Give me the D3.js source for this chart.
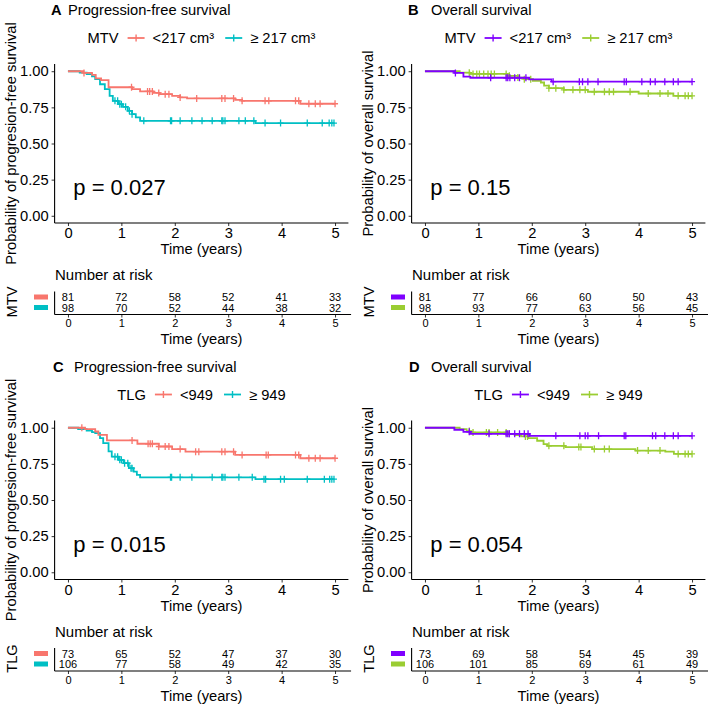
<!DOCTYPE html>
<html><head><meta charset="utf-8">
<script src="https://cdn.jsdelivr.net/npm/d3@7"></script>
<style>
body{margin:0;background:#fff}
svg{display:block}
text{font-family:"Liberation Sans",Arial,Helvetica,sans-serif;fill:#000}
</style>
</head><body><svg id="c" width="708" height="708"></svg>
<script>
// ---------- data ----------
const timeTicks = [0, 1, 2, 3, 4, 5];
const survTicks = [0, 0.25, 0.5, 0.75, 1];

// A: PFS by MTV
const pfsMtvLowTimes = [0, 0.29, 0.45, 0.52, 0.62, 0.76, 1.20, 1.35, 1.60, 1.72, 1.95, 2.10, 2.23, 3.13, 3.26, 4.35];
const pfsMtvLowSurv  = [1, 0.988, 0.975, 0.951, 0.938, 0.889, 0.876, 0.860, 0.850, 0.841, 0.830, 0.819, 0.812, 0.802, 0.795, 0.775];
const pfsMtvLowCens  = [0.30, 1.19, 1.49, 1.53, 1.58, 1.70, 1.82, 1.89, 2.10, 2.41, 2.88, 2.94, 3.10, 3.26, 3.69, 3.76, 4.26, 4.32, 4.51, 4.63, 4.72, 5.0];
const pfsMtvHighTimes = [0, 0.22, 0.35, 0.45, 0.51, 0.60, 0.69, 0.78, 0.84, 0.94, 1.03, 1.12, 1.20, 1.27, 1.35, 3.51];
const pfsMtvHighSurv  = [1, 0.99, 0.98, 0.965, 0.945, 0.91, 0.876, 0.83, 0.795, 0.772, 0.754, 0.726, 0.703, 0.681, 0.657, 0.641];
const pfsMtvHighCens  = [0.88, 0.93, 0.97, 1.0, 1.08, 1.15, 1.20, 1.42, 1.92, 1.94, 2.10, 2.32, 2.51, 2.70, 2.88, 2.90, 2.94, 3.20, 3.32, 3.48, 3.69, 3.98, 4.48, 4.76, 4.89, 4.94, 4.98];

// B: OS by MTV
const osMtvLowTimes = [0, 0.55, 0.72, 0.85, 1.95, 2.37];
const osMtvLowSurv  = [1, 0.988, 0.963, 0.955, 0.943, 0.928];
const osMtvLowCens  = [0.57, 1.23, 1.52, 1.55, 1.59, 1.68, 1.77, 1.89, 2.40, 2.89, 2.95, 3.05, 3.24, 3.73, 3.77, 4.06, 4.22, 4.31, 4.49, 4.65, 4.74, 5.0];
const osMtvHighTimes = [0, 0.65, 0.84, 1.55, 1.74, 1.86, 2.02, 2.17, 2.23, 2.32, 2.60, 3.05, 4.00, 4.65];
const osMtvHighSurv  = [1, 0.99, 0.981, 0.968, 0.956, 0.945, 0.933, 0.922, 0.90, 0.883, 0.871, 0.858, 0.846, 0.830];
const osMtvHighCens  = [0.83, 0.90, 0.97, 1.02, 1.10, 1.18, 1.24, 1.30, 1.52, 1.58, 1.74, 1.86, 1.98, 2.32, 2.45, 2.60, 2.77, 2.90, 3.0, 3.17, 3.36, 3.45, 3.53, 3.84, 4.18, 4.40, 4.55, 4.74, 4.87, 4.93, 5.0];

// C: PFS by TLG
const pfsTlgLowTimes = [0, 0.32, 0.51, 0.57, 0.73, 1.30, 1.70, 1.95, 2.20, 3.13, 4.35];
const pfsTlgLowSurv  = [1, 0.99, 0.974, 0.951, 0.912, 0.889, 0.870, 0.852, 0.834, 0.812, 0.789];
const pfsTlgLowCens  = [0.26, 1.20, 1.50, 1.54, 1.58, 1.70, 1.82, 1.89, 2.10, 2.39, 2.45, 2.88, 2.94, 3.10, 3.26, 3.71, 3.75, 4.26, 4.32, 4.51, 4.63, 4.72, 5.0];
const pfsTlgHighTimes = [0, 0.19, 0.35, 0.45, 0.51, 0.60, 0.66, 0.76, 0.82, 0.95, 1.04, 1.14, 1.23, 1.29, 1.35, 3.51];
const pfsTlgHighSurv  = [1, 0.99, 0.98, 0.97, 0.963, 0.928, 0.894, 0.836, 0.80, 0.778, 0.755, 0.72, 0.697, 0.674, 0.657, 0.644];
const pfsTlgHighCens  = [0.88, 0.93, 0.97, 1.0, 1.06, 1.12, 1.18, 1.20, 1.92, 1.94, 2.10, 2.32, 2.70, 2.88, 2.90, 2.94, 3.20, 3.45, 3.67, 3.70, 3.98, 4.05, 4.48, 4.80, 4.90, 4.94, 4.98];

// D: OS by TLG
const osTlgLowTimes = [0, 0.55, 0.72, 0.85, 1.96];
const osTlgLowSurv  = [1, 0.986, 0.972, 0.958, 0.944];
const osTlgLowCens  = [0.83, 1.20, 1.52, 1.55, 1.58, 1.68, 1.77, 1.86, 1.93, 2.45, 2.90, 3.00, 3.05, 3.25, 3.73, 3.76, 4.26, 4.32, 4.49, 4.65, 4.74, 5.0];
const osTlgHighTimes = [0, 0.65, 0.78, 0.86, 1.55, 1.68, 1.80, 1.93, 2.10, 2.22, 2.29, 2.63, 3.13, 3.94, 4.50, 4.66];
const osTlgHighSurv  = [1, 0.99, 0.977, 0.967, 0.958, 0.949, 0.94, 0.928, 0.91, 0.887, 0.875, 0.866, 0.852, 0.842, 0.834, 0.819];
const osTlgHighCens  = [0.83, 0.90, 1.15, 1.20, 1.36, 1.52, 1.58, 1.88, 1.92, 2.32, 2.60, 2.88, 2.92, 3.17, 3.36, 3.45, 3.98, 4.18, 4.40, 4.74, 4.87, 4.93, 5.0];

// numbers at risk
const riskPfsMtvLow  = [81, 72, 58, 52, 41, 33];
const riskPfsMtvHigh = [98, 70, 52, 44, 38, 32];
const riskOsMtvLow   = [81, 77, 66, 60, 50, 43];
const riskOsMtvHigh  = [98, 93, 77, 63, 56, 45];
const riskPfsTlgLow  = [73, 65, 52, 47, 37, 30];
const riskPfsTlgHigh = [106, 77, 58, 49, 42, 35];
const riskOsTlgLow   = [73, 69, 58, 54, 45, 39];
const riskOsTlgHigh  = [106, 101, 85, 69, 61, 49];

const panelLetters = ["A", "B", "C", "D"];
const panelTitles = ["Progression-free survival", "Overall survival", "Progression-free survival", "Overall survival"];
const yTitles = ["Probability of progresion-free survival", "Probability of overall survival", "Probability of progresion-free survival", "Probability of overall survival"];
const strataNames = ["MTV", "MTV", "TLG", "TLG"];
const lowLabels = ["<217 cm³", "<217 cm³", "<949", "<949"];
const highLabels = ["≥ 217 cm³", "≥ 217 cm³", "≥ 949", "≥ 949"];
const pValues = ["p = 0.027", "p = 0.15", "p = 0.015", "p = 0.054"];

// ---------- styling ----------
const PFS_COLORS = ["#F8766D", "#00BFC4"];
const OS_COLORS = ["#7F00FF", "#9ACD32"];
const F = 14.7;

const panels = [
  {ox: 0, oy: 0, colors: PFS_COLORS, letterX: 51, titleX: 68,
   low: [pfsMtvLowTimes, pfsMtvLowSurv, pfsMtvLowCens], high: [pfsMtvHighTimes, pfsMtvHighSurv, pfsMtvHighCens],
   risk: [riskPfsMtvLow, riskPfsMtvHigh]},
  {ox: 357, oy: 0, colors: OS_COLORS, letterX: 51, titleX: 74,
   low: [osMtvLowTimes, osMtvLowSurv, osMtvLowCens], high: [osMtvHighTimes, osMtvHighSurv, osMtvHighCens],
   risk: [riskOsMtvLow, riskOsMtvHigh]},
  {ox: 0, oy: 356.5, colors: PFS_COLORS, letterX: 53, titleX: 74,
   low: [pfsTlgLowTimes, pfsTlgLowSurv, pfsTlgLowCens], high: [pfsTlgHighTimes, pfsTlgHighSurv, pfsTlgHighCens],
   risk: [riskPfsTlgLow, riskPfsTlgHigh]},
  {ox: 357, oy: 356.5, colors: OS_COLORS, letterX: 52, titleX: 74,
   low: [osTlgLowTimes, osTlgLowSurv, osTlgLowCens], high: [osTlgHighTimes, osTlgHighSurv, osTlgHighCens],
   risk: [riskOsTlgLow, riskOsTlgHigh]}
];

const svg = d3.select("#c");
svg.append("rect").attr("width", 708).attr("height", 708).attr("fill", "#fff");

function survAt(times, surv, t) {
  let s = 1;
  for (let i = 0; i < times.length; i++) if (times[i] <= t) s = surv[i];
  return s;
}

panels.forEach((p, idx) => {
  const g = svg.append("g").attr("transform", `translate(${p.ox},${p.oy})`);
  const x = d3.scaleLinear().domain([-0.25, 5.25]).range([54.6, 348.4]);
  const y = d3.scaleLinear().domain([-0.05, 1.05]).range([223, 64]);
  const cx = (x.range()[0] + x.range()[1]) / 2;

  // title
  g.append("text").attr("x", p.letterX).attr("y", 15).attr("font-size", F).attr("font-weight", "bold").text(panelLetters[idx]);
  g.append("text").attr("x", p.titleX).attr("y", 15).attr("font-size", F).text(panelTitles[idx]);

  // legend
  const lg = g.append("g").attr("transform", "translate(0,38)");
  let cur = 0;
  const addText = (t) => {
    const el = lg.append("text").attr("x", cur).attr("y", 5.2).attr("font-size", F).text(t);
    cur += el.node().getComputedTextLength();
  };
  const addKey = (col) => {
    lg.append("line").attr("x1", cur).attr("x2", cur + 17).attr("y1", 0).attr("y2", 0).attr("stroke", col).attr("stroke-width", 1.8);
    lg.append("line").attr("x1", cur + 8.5).attr("x2", cur + 8.5).attr("y1", -3.5).attr("y2", 3.5).attr("stroke", col).attr("stroke-width", 1.4);
    cur += 17;
  };
  addText(strataNames[idx]); cur += 9;
  addKey(p.colors[0]); cur += 8;
  addText(lowLabels[idx]); cur += 11;
  addKey(p.colors[1]); cur += 8;
  addText(highLabels[idx]);
  lg.attr("transform", `translate(${cx - cur / 2},38)`);

  // axes
  const ya = g.append("g").attr("transform", `translate(${x.range()[0]},0)`)
    .call(d3.axisLeft(y).tickValues(survTicks).tickFormat(d3.format(".2f")).tickSize(3).tickPadding(3));
  const xa = g.append("g").attr("transform", `translate(0,${y.range()[0]})`)
    .call(d3.axisBottom(x).tickValues(timeTicks).tickFormat(d3.format("d")).tickSize(3).tickPadding(2));
  [ya, xa].forEach(a => {
    a.select(".domain").remove();
    a.selectAll(".tick line").attr("stroke", "#333").attr("stroke-width", 1);
    a.selectAll(".tick text").attr("font-size", F).attr("fill", "#000").style("font-family", "Liberation Sans, Arial, sans-serif");
  });
  g.append("line").attr("x1", x.range()[0]).attr("x2", x.range()[0]).attr("y1", y.range()[1]).attr("y2", y.range()[0]).attr("stroke", "#000").attr("stroke-width", 1.1);
  g.append("line").attr("x1", x.range()[0]).attr("x2", x.range()[1]).attr("y1", y.range()[0]).attr("y2", y.range()[0]).attr("stroke", "#000").attr("stroke-width", 1.1);

  g.append("text").attr("transform", `translate(16,${(y.range()[0] + y.range()[1]) / 2}) rotate(-90)`)
    .attr("text-anchor", "middle").attr("font-size", F).text(yTitles[idx]);
  g.append("text").attr("x", cx).attr("y", 254).attr("text-anchor", "middle").attr("font-size", F).text("Time (years)");

  // curves
  const line = d3.line().x(d => x(d[0])).y(d => y(d[1])).curve(d3.curveStepAfter);
  [p.high, p.low].forEach((s, k) => {
    const col = k === 0 ? p.colors[1] : p.colors[0];
    const [times, surv, cens] = s;
    const pts = times.map((t, i) => [t, surv[i]]);
    const tEnd = Math.max(d3.max(cens), d3.max(times));
    pts.push([tEnd, surv[surv.length - 1]]);
    g.append("path").attr("d", line(pts)).attr("fill", "none").attr("stroke", col).attr("stroke-width", 1.8);
    g.append("g").selectAll("path").data(cens).join("path")
      .attr("d", t => {
        const px = x(t), py = y(survAt(times, surv, t));
        return `M${px - 3},${py}H${px + 3}M${px},${py - 3.5}V${py + 3.5}`;
      })
      .attr("stroke", col).attr("stroke-width", 1.3).attr("fill", "none");
  });

  // p-value
  g.append("text").attr("x", x(0.1)).attr("y", y(0.143)).attr("font-size", 22).text(pValues[idx]);

  // risk table
  g.append("text").attr("x", 55).attr("y", 280).attr("font-size", 15).text("Number at risk");
  const rowY = [297, 307.5];
  p.risk.forEach((arr, r) => {
    g.append("rect").attr("x", 34).attr("y", rowY[r] - 2.5).attr("width", 14).attr("height", 5).attr("fill", p.colors[r]);
    g.append("g").selectAll("text").data(arr).join("text")
      .attr("x", (d, i) => x(timeTicks[i])).attr("y", rowY[r] + 4)
      .attr("text-anchor", "middle").attr("font-size", 11).text(d => d);
  });
  const tx = d3.scaleLinear().domain([-0.25, 5.3]).range([x(-0.25), x(5.3)]);
  const ta = g.append("g").attr("transform", "translate(0,314.5)")
    .call(d3.axisBottom(tx).tickValues(timeTicks).tickFormat(d3.format("d")).tickSize(3).tickPadding(2));
  ta.select(".domain").remove();
  ta.selectAll(".tick line").attr("stroke", "#333");
  ta.selectAll(".tick text").attr("font-size", 11).attr("fill", "#000").style("font-family", "Liberation Sans, Arial, sans-serif");
  g.append("line").attr("x1", tx.range()[0]).attr("x2", tx.range()[1]).attr("y1", 314.5).attr("y2", 314.5).attr("stroke", "#000").attr("stroke-width", 1.1);
  g.append("line").attr("x1", tx.range()[0]).attr("x2", tx.range()[0]).attr("y1", 291.5).attr("y2", 314.5).attr("stroke", "#000").attr("stroke-width", 1.1);
  g.append("text").attr("x", cx).attr("y", 344).attr("text-anchor", "middle").attr("font-size", F).text("Time (years)");
  g.append("text").attr("transform", "translate(16.5,302) rotate(-90)").attr("text-anchor", "middle").attr("font-size", F).text(strataNames[idx]);
});
</script>
</body></html>
